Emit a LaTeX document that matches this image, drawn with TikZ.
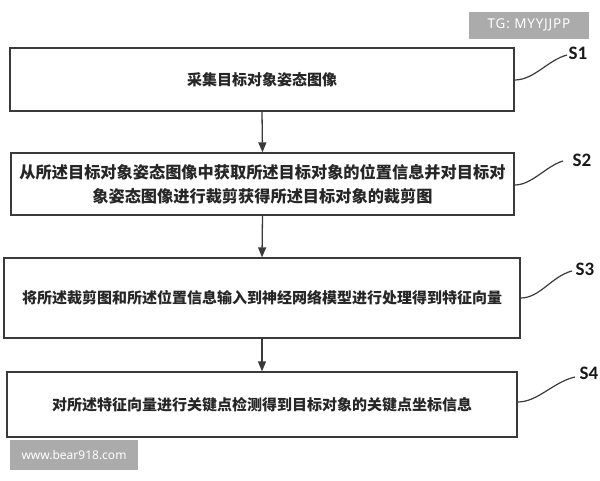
\documentclass[tikz,border=0pt]{standalone}
\usepackage{fontspec}
\usetikzlibrary{arrows.meta}
\setmainfont{Noto Sans}
\newfontfamily\cjk{Noto Sans CJK SC}
\newfontfamily\labfont{Carlito}
\newfontfamily\tgfont[LetterSpace=6]{Noto Sans}
\definecolor{lineclr}{HTML}{3A3A3A}
\definecolor{wmgray}{HTML}{ABABAB}
\tikzset{
  stepbox/.style={draw=lineclr, line width=1.3pt, fill=white, inner sep=0pt, align=center,
    font=\cjk\bfseries\fontsize{15}{24}\selectfont, text=black!85},
  flow/.style={draw=lineclr, line width=1.3pt, -{Triangle[length=10pt,width=8pt]}},
  lead/.style={draw=lineclr, line width=1.2pt},
  slabel/.style={font=\labfont\bfseries\fontsize{19}{19}\selectfont, inner sep=0pt, text=black!90},
  wm/.style={fill=wmgray, text=white, inner sep=0pt, font=\fontsize{12}{12}\selectfont}
}
\begin{document}
\begin{tikzpicture}[x=1pt,y=-1pt]
\useasboundingbox (0,0) rectangle (600,480);
\fill[white] (0,0) rectangle (600,480);
% boxes
\node[stepbox, minimum width=504pt, minimum height=63pt] (b1) at (262,79.5) {采集目标对象姿态图像};
\node[stepbox, minimum width=503pt, minimum height=62pt, font=\cjk\bfseries\fontsize{16.2}{24}\selectfont] (b2) at (262.5,184)
  {从所述目标对象姿态图像中获取所述目标对象的位置信息并对目标对\\象姿态图像进行裁剪获得所述目标对象的裁剪图};
\node[stepbox, minimum width=516pt, minimum height=80pt] (b3) at (262,298) {将所述裁剪图和所述位置信息输入到神经网络模型进行处理得到特征向量};
\node[stepbox, minimum width=510pt, minimum height=65pt] (b4) at (262,404.5) {对所述特征向量进行关键点检测得到目标对象的关键点坐标信息};
% arrows
\draw[flow] (b1.south) -- (b2.north);
\draw[flow] (b2.south) -- (b3.north);
\draw[flow] (b3.south) -- (b4.north);
% step labels
\node[slabel] (s1) at (578,53) {S1};
\node[slabel] (s2) at (582,160) {S2};
\node[slabel] (s3) at (585,269) {S3};
\node[slabel] (s4) at (589,373) {S4};
\coordinate (e1) at (567,55);
\coordinate (e2) at (563,161);
\coordinate (e3) at (572,271);
\coordinate (e4) at (575,377);
\draw[lead] (b1.east |- 0,80) .. controls (534,80) and (548,60) .. (e1);
\draw[lead] (b2.east |- 0,185) .. controls (532,185) and (546,166) .. (e2);
\draw[lead] (b3.east |- 0,298) .. controls (540,298) and (552,276) .. (e3);
\draw[lead] (b4.east |- 0,402) .. controls (538,402) and (553,382) .. (e4);
% watermarks
\node[wm, minimum width=120pt, minimum height=27pt, font=\tgfont\fontsize{13.5}{13.5}\selectfont] (wm1) at (529,25) {TG: MYYJJPP};
\node[wm, minimum width=128pt, minimum height=30pt] (wm2) at (74,455) {www.bear918.com};
\end{tikzpicture}
\end{document}
